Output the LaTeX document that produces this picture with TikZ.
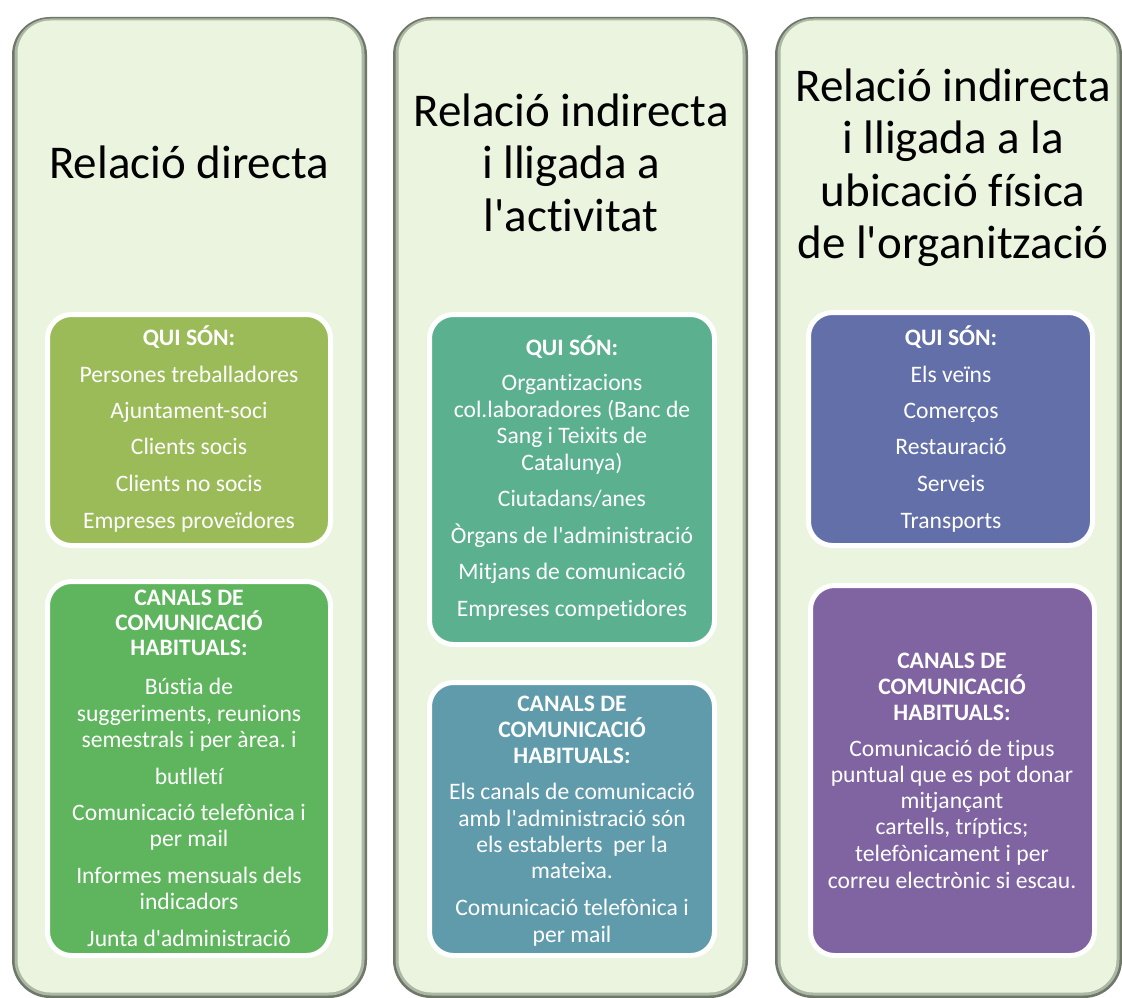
\documentclass[tikz,border=0pt]{standalone}
\usepackage{fontspec}
\setmainfont[Ligatures={NoCommon}]{Carlito}
\frenchspacing
\definecolor{panelfill}{HTML}{EAF4DF}
\definecolor{paneledge}{HTML}{6E776A}
\definecolor{panelmid}{HTML}{ADB8A4}
\definecolor{qone}{HTML}{9BBB59}
\definecolor{cone}{HTML}{5EB55D}
\definecolor{qtwo}{HTML}{5BB08F}
\definecolor{ctwo}{HTML}{5F9BAA}
\definecolor{qthree}{HTML}{636FA8}
\definecolor{cthree}{HTML}{8064A2}
\newcommand\txtline[4]{\node[#1] (#2) at (#3) {#4};}
\newcommand\q{\textquotesingle}
\tikzset{
  box/.style={draw=white, line width=5pt, rounded corners=24pt, inner sep=0pt},
  body/.style={anchor=base, inner sep=0pt, text=white, font=\fontsize{23.6}{26}\selectfont},
  head/.style={body, font=\fontsize{23.6}{26}\selectfont\bfseries},
  title/.style={anchor=base, inner sep=0pt, text=black, font=\fontsize{47}{52}\selectfont},
}
\newcommand\drawpanel[2]{%
  \fill[paneledge, rounded corners=38pt] (#1,17) rectangle (#2,998);
  \fill[panelmid, rounded corners=36pt] (#1+2.5,18.5) rectangle (#2-2.5,995.5);
  \fill[panelfill, rounded corners=33pt] (#1+5.5,20.5) rectangle (#2-5.5,992.5);
}
\begin{document}
\begin{tikzpicture}[x=1pt,y=-1pt]
\useasboundingbox (0,0) rectangle (1122,998);
\fill[white] (0,0) rectangle (1122,998);
\drawpanel{12}{367}
\drawpanel{393}{748}
\drawpanel{775}{1122}

% boxes
\node[box, fill=qone, minimum width=283pt, minimum height=231pt] (q1) at (189,430) {};
\node[box, fill=cone, minimum width=283pt, minimum height=374pt] (k1) at (189,768.5) {};
\node[box, fill=qtwo, minimum width=285pt, minimum height=330pt] (q2) at (572,479.5) {};
\node[box, fill=ctwo, minimum width=285pt, minimum height=273pt] (k2) at (572,819) {};
\node[box, fill=qthree, minimum width=284pt, minimum height=233pt] (q3) at (950.5,429) {};
\node[box, fill=cthree, minimum width=284pt, minimum height=370pt] (k3) at (952.5,770.5) {};

% column 1
\txtline{title}{t1a}{189,178}{Relació directa}
\txtline{head}{q1h}{189,345}{QUI SÓN:}
\txtline{body}{q1a}{189,382}{Persones treballadores}
\txtline{body}{q1b}{189,418}{Ajuntament-soci}
\txtline{body}{q1c}{189,454}{Clients socis}
\txtline{body}{q1d}{189,491}{Clients no socis}
\txtline{body}{q1e}{189,528}{Empreses proveïdores}
\txtline{head}{k1h1}{189,605}{CANALS DE}
\txtline{head}{k1h2}{189,630}{COMUNICACIÓ}
\txtline{head}{k1h3}{189,655}{HABITUALS:}
\txtline{body}{k1a}{189,694}{Bústia de}
\txtline{body}{k1b}{189,721}{suggeriments, reunions}
\txtline{body}{k1c}{189,747}{semestrals i per àrea. i}
\txtline{body}{k1d}{189,784}{butlletí}
\txtline{body}{k1e}{189,820}{Comunicació telefònica i}
\txtline{body}{k1f}{189,846}{per mail}
\txtline{body}{k1g}{189,883}{Informes mensuals dels}
\txtline{body}{k1h}{189,909}{indicadors}
\txtline{body}{k1i}{189,946}{Junta d\q administració}

% column 2
\txtline{title}{t2a}{571,126}{Relació indirecta}
\txtline{title}{t2b}{571,178}{i lligada a}
\txtline{title}{t2c}{571,231}{l\q activitat}
\txtline{head}{q2h}{572,355}{QUI SÓN:}
\txtline{body}{q2a}{572,390}{Organtizacions}
\txtline{body}{q2b}{572,417}{col.laboradores (Banc de}
\txtline{body}{q2c}{572,443}{Sang i Teixits de}
\txtline{body}{q2d}{572,470}{Catalunya)}
\txtline{body}{q2e}{572,506}{Ciutadans/anes}
\txtline{body}{q2f}{572,543}{Òrgans de l\q administració}
\txtline{body}{q2g}{572,579}{Mitjans de comunicació}
\txtline{body}{q2i}{572,616}{Empreses competidores}
\txtline{head}{k2h1}{572,711}{CANALS DE}
\txtline{head}{k2h2}{572,737}{COMUNICACIÓ}
\txtline{head}{k2h3}{572,763}{HABITUALS:}
\txtline{body}{k2a}{572,799}{Els canals de comunicació}
\txtline{body}{k2b}{572,826}{amb l\q administració són}
\txtline{body}{k2c}{572,852}{els establerts\ \ per la}
\txtline{body}{k2d}{572,878}{mateixa.}
\txtline{body}{k2e}{572,915}{Comunicació telefònica i}
\txtline{body}{k2f}{572,942}{per mail}

% column 3
\txtline{title}{t3a}{953,101}{Relació indirecta}
\txtline{title}{t3b}{953,153}{i lligada a la}
\txtline{title}{t3c}{953,206}{ubicació física}
\txtline{title}{t3d}{953,258}{de l\q organització}
\txtline{head}{q3h}{951,345}{QUI SÓN:}
\txtline{body}{q3a}{951,382}{Els veïns}
\txtline{body}{q3b}{951,418}{Comerços}
\txtline{body}{q3c}{951,454}{Restauració}
\txtline{body}{q3d}{951,491}{Serveis}
\txtline{body}{q3e}{951,528}{Transports}
\txtline{head}{k3h1}{952,668}{CANALS DE}
\txtline{head}{k3h2}{952,694}{COMUNICACIÓ}
\txtline{head}{k3h3}{952,720}{HABITUALS:}
\txtline{body}{k3a}{952,756}{Comunicació de tipus}
\txtline{body}{k3b}{952,782}{puntual que es pot donar}
\txtline{body}{k3c}{952,808}{mitjançant}
\txtline{body}{k3d}{952,834}{cartells, tríptics;}
\txtline{body}{k3e}{952,861}{telefònicament i per}
\txtline{body}{k3f}{952,888}{correu electrònic si escau.}
\end{tikzpicture}
\end{document}
